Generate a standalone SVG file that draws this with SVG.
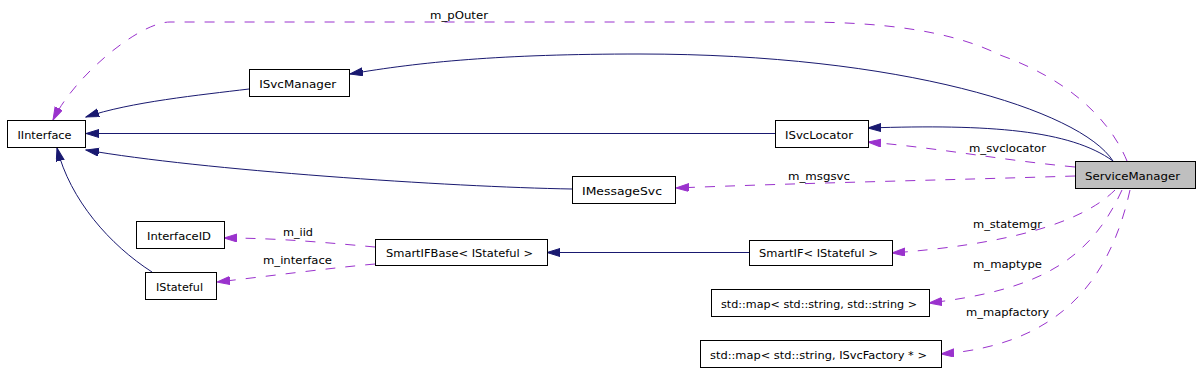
<svg xmlns="http://www.w3.org/2000/svg" width="1200" height="372" viewBox="0 0 1200 372">
<style>
.box{fill:#ffffff;stroke:#000000;stroke-width:1}
.main{fill:#bfbfbf;stroke:#000000;stroke-width:1}
.t{font-family:"DejaVu Sans","Liberation Sans",sans-serif;font-size:11px;fill:#000000;text-anchor:middle}
.inh{fill:none;stroke:#191970;stroke-width:1}
.use{fill:none;stroke:#9a32cd;stroke-width:1;stroke-dasharray:10,10}
</style>
<defs>
<marker id="an" markerUnits="userSpaceOnUse" markerWidth="14" markerHeight="10" refX="13" refY="4" orient="auto" viewBox="0 0 14 10">
<path d="M0,0 L13,4 L0,8 z" fill="#191970" stroke="#191970"/>
</marker>
<marker id="ap" markerUnits="userSpaceOnUse" markerWidth="14" markerHeight="10" refX="13" refY="4" orient="auto" viewBox="0 0 14 10">
<path d="M0,0 L13,4 L0,8 z" fill="#9a32cd" stroke="#9a32cd"/>
</marker>
</defs>
<rect width="1200" height="372" fill="#ffffff"/>
<g id="connectors">
<path class="inh" d="M1113,161 C1080,110 900,54 640,54 C500,54 420,62 350,74" marker-end="url(#an)"/>
<path class="inh" d="M249,89 C200,95 130,102 86,117" marker-end="url(#an)"/>
<path class="inh" d="M775,133.5 L86,133.5" marker-end="url(#an)"/>
<path class="inh" d="M572,189 C450,187 200,170 86,150" marker-end="url(#an)"/>
<path class="inh" d="M152,272 C110,245 70,200 57,148" marker-end="url(#an)"/>
<path class="inh" d="M1113,161 C1070,130 990,124 868,128" marker-end="url(#an)"/>
<path class="inh" d="M749,252.5 L547,252.5" marker-end="url(#an)"/>
<path class="use" d="M1075,167 C1000,160 940,148 868,142" marker-end="url(#ap)"/>
<path class="use" d="M1075,176 C950,180 800,183 676,188" marker-end="url(#ap)"/>
<path class="use" d="M1127,161 C1110,120 1070,80 1000,55 C950,30 880,22 800,22 L170,22 C140,22 75,75 53,120" marker-end="url(#ap)"/>
<path class="use" d="M375,247 C330,243 280,238 224,238" marker-end="url(#ap)"/>
<path class="use" d="M375,264 C330,268 270,276 217,282" marker-end="url(#ap)"/>
<path class="use" d="M1115,190 C1080,225 1000,245 892,253" marker-end="url(#ap)"/>
<path class="use" d="M1122,190 C1090,260 1040,290 929,303" marker-end="url(#ap)"/>
<path class="use" d="M1130,190 C1110,280 1060,345 941,354" marker-end="url(#ap)"/>
<text class="t" x="459" y="19" textLength="58" lengthAdjust="spacingAndGlyphs">m_pOuter</text>
<text class="t" x="1007.5" y="152" textLength="77" lengthAdjust="spacingAndGlyphs">m_svclocator</text>
<text class="t" x="819" y="180" textLength="62" lengthAdjust="spacingAndGlyphs">m_msgsvc</text>
<text class="t" x="298" y="236" textLength="30" lengthAdjust="spacingAndGlyphs">m_iid</text>
<text class="t" x="297.5" y="264" textLength="69" lengthAdjust="spacingAndGlyphs">m_interface</text>
<text class="t" x="1007.5" y="228" textLength="69" lengthAdjust="spacingAndGlyphs">m_statemgr</text>
<text class="t" x="1007.5" y="268" textLength="69" lengthAdjust="spacingAndGlyphs">m_maptype</text>
<text class="t" x="1007.5" y="316" textLength="83" lengthAdjust="spacingAndGlyphs">m_mapfactory</text>
</g>
<g id="ServiceManager"><rect class="main" x="1075.5" y="161.5" width="120" height="27"/><text class="t" x="1132.5" y="180" textLength="95" lengthAdjust="spacingAndGlyphs">ServiceManager</text></g>
<g id="IInterface"><rect class="box" x="7.5" y="120.5" width="78" height="27"/><text class="t" x="44.5" y="139" textLength="54" lengthAdjust="spacingAndGlyphs">IInterface</text></g>
<g id="ISvcManager"><rect class="box" x="249.5" y="69.5" width="100" height="27"/><text class="t" x="297.7" y="88" textLength="77" lengthAdjust="spacingAndGlyphs">ISvcManager</text></g>
<g id="ISvcLocator"><rect class="box" x="775.5" y="120.5" width="93" height="27"/><text class="t" x="819" y="139" textLength="68" lengthAdjust="spacingAndGlyphs">ISvcLocator</text></g>
<g id="IMessageSvc"><rect class="box" x="572.5" y="176.5" width="103" height="27"/><text class="t" x="622" y="195" textLength="80" lengthAdjust="spacingAndGlyphs">IMessageSvc</text></g>
<g id="SmartIFBase"><rect class="box" x="375.5" y="239.5" width="172" height="26"/><text class="t" x="459.5" y="257" textLength="147" lengthAdjust="spacingAndGlyphs">SmartIFBase&lt; IStateful &gt;</text></g>
<g id="SmartIF"><rect class="box" x="749.5" y="240.5" width="143" height="25"/><text class="t" x="818.5" y="257" textLength="119" lengthAdjust="spacingAndGlyphs">SmartIF&lt; IStateful &gt;</text></g>
<g id="MapString"><rect class="box" x="711.5" y="289.5" width="218" height="27"/><text class="t" x="819" y="308" textLength="196" lengthAdjust="spacingAndGlyphs">std::map&lt; std::string, std::string &gt;</text></g>
<g id="MapFactory"><rect class="box" x="700.5" y="340.5" width="241" height="27"/><text class="t" x="818.5" y="359" textLength="217" lengthAdjust="spacingAndGlyphs">std::map&lt; std::string, ISvcFactory * &gt;</text></g>
<g id="InterfaceID"><rect class="box" x="136.5" y="221.5" width="88" height="27"/><text class="t" x="179" y="240" textLength="64" lengthAdjust="spacingAndGlyphs">InterfaceID</text></g>
<g id="IStateful"><rect class="box" x="145.5" y="272.5" width="71" height="27"/><text class="t" x="179.5" y="291" textLength="47" lengthAdjust="spacingAndGlyphs">IStateful</text></g>
</svg>
